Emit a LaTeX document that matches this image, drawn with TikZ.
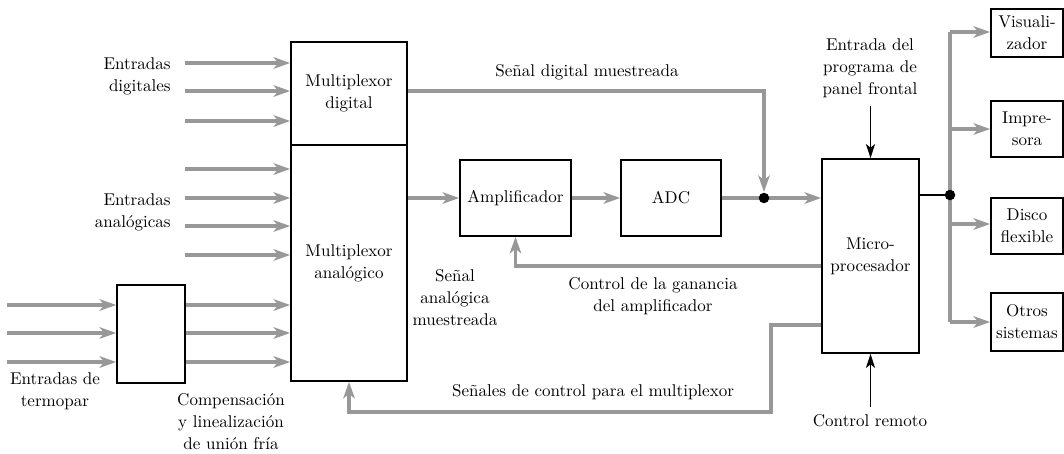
\documentclass[tikz,border=0pt]{standalone}
\usetikzlibrary{arrows.meta}
\definecolor{gline}{RGB}{152,152,152}
\begin{document}
\begin{tikzpicture}[x=0.02cm,y=-0.02cm,
  every node/.style={font=\rmfamily\fontsize{9.7}{12.5}\selectfont},
  blk/.style={draw=black,line width=1pt,rectangle,align=center,inner sep=0pt},
  gar/.style={draw=gline,line width=2.1pt,-{Stealth[length=0.33cm,width=0.23cm,inset=0.09cm,fill=gline]}},
  gln/.style={draw=gline,line width=2.1pt},
  bar/.style={draw=black,line width=0.9pt,-{Stealth[length=0.28cm,width=0.18cm,inset=0.07cm]}},
  bln/.style={draw=black,line width=0.9pt},
  lbl/.style={align=center,inner sep=0pt},
  jdot/.style={circle,fill=black,inner sep=0pt,minimum size=0.21cm}]
\useasboundingbox (0,0) rectangle (1064,453);

% boxes
\node[blk,minimum width=2.32cm,minimum height=2.06cm] (dmux) at (349,93.5) {Multiplexor\\digital};
\node[blk,minimum width=2.32cm,minimum height=4.72cm] (amux) at (349,263) {Multiplexor\\anal\'ogico};
\node[blk,minimum width=1.36cm,minimum height=1.96cm] (thermo) at (151,334) {};
\node[blk,minimum width=2.22cm,minimum height=1.52cm] (amp) at (515.5,198) {Amplificador};
\node[blk,minimum width=2.0cm,minimum height=1.52cm] (adc) at (671,198) {ADC};
\node[blk,minimum width=1.94cm,minimum height=3.88cm] (micro) at (870.5,256) {Micro-\\procesador};
\node[blk,minimum width=1.44cm,minimum height=0.96cm] (vis) at (1027,33) {Visuali-\\zador};
\node[blk,minimum width=1.44cm,minimum height=1.12cm] (imp) at (1027,129) {Impre-\\sora};
\node[blk,minimum width=1.44cm,minimum height=1.12cm] (disco) at (1027,226) {Disco\\flexible};
\node[blk,minimum width=1.44cm,minimum height=1.16cm] (otros) at (1027,322) {Otros\\sistemas};

% input arrows
\foreach \y/\n in {63/d1,91/d2,121/d3} {
  \coordinate (\n) at (185,\y);
  \draw[gar] (\n) -- (\n -| dmux.west);
}
\foreach \y/\n in {169/a1,198/a2,226/a3,255/a4} {
  \coordinate (\n) at (185,\y);
  \draw[gar] (\n) -- (\n -| amux.west);
}
\foreach \y/\n in {305/t1,333/t2,362/t3} {
  \coordinate (\n) at (7,\y);
  \draw[gar] (\n) -- (\n -| thermo.west);
  \draw[gar] (\n -| thermo.east) -- (\n -| amux.west);
}

% labels of inputs
\node[lbl,align=right,anchor=east] (ldig) at (171,76) {Entradas\\digitales};
\node[lbl,align=right,anchor=east] (lana) at (171,212) {Entradas\\anal\'ogicas};
\node[lbl] (lterm) at (55,391) {Entradas de\\termopar};
\node[lbl] (lcomp) at (231,422) {Compensaci\'on\\y linealizaci\'on\\de uni\'on fr\'ia};

% main chain
\coordinate (j1) at (764,198);
\coordinate (ampin) at (amux.east |- amp.west);
\draw[gar] (ampin) -- (amp.west);
\draw[gar] (amp.east) -- (adc.west);
\draw[gln] (adc.east) -- (j1);
\draw[gar] (j1) -- (j1 -| micro.west);

% digital sampled signal
\coordinate (ds) at (dmux.east |- 0,91);
\coordinate (j1top) at (764,192);
\draw[gar] (ds) -| (j1top);
\node[lbl] (lds) at (587,72) {Se\~nal digital muestreada};
\node[jdot] (j1dot) at (j1) {};

% gain control
\coordinate (gc) at (micro.west |- 0,266);
\draw[gar] (gc) -| (amp.south);
\node[lbl] (lgc) at (653,296) {Control de la ganancia\\del amplificador};

% mux control
\coordinate (mc) at (micro.west |- 0,325);
\coordinate (mc1) at (771,325);
\coordinate (mc2) at (771,412);
\draw[gar] (mc) -- (mc1) -- (mc2) -| (amux.south);
\node[lbl] (lmc) at (593,392) {Se\~nales de control para el multiplexor};

\node[lbl] (lsa) at (455,298) {Se\~nal\\anal\'ogica\\muestreada};

% front panel & remote
\node[lbl] (lfp) at (870,68) {Entrada del\\programa de\\panel frontal};
\coordinate (fp) at (micro.north |- 0,106);
\draw[bar] (fp) -- (micro.north);
\node[lbl] (lrc) at (870,421) {Control remoto};
\coordinate (rc) at (micro.south |- 0,407);
\draw[bar] (rc) -- (micro.south);

% outputs
\coordinate (j2) at (950,195);
\draw[gln] (950,32) -- (950,322);
\draw[gar] (950,32) -- (vis.west |- 0,32);
\draw[gar] (950,129) -- (imp.west);
\draw[gar] (950,224) -- (disco.west |- 0,224);
\draw[gar] (950,322) -- (otros.west);
\draw[bln] (micro.east |- j2) -- (j2);
\node[jdot] (j2dot) at (j2) {};
\end{tikzpicture}
\end{document}
